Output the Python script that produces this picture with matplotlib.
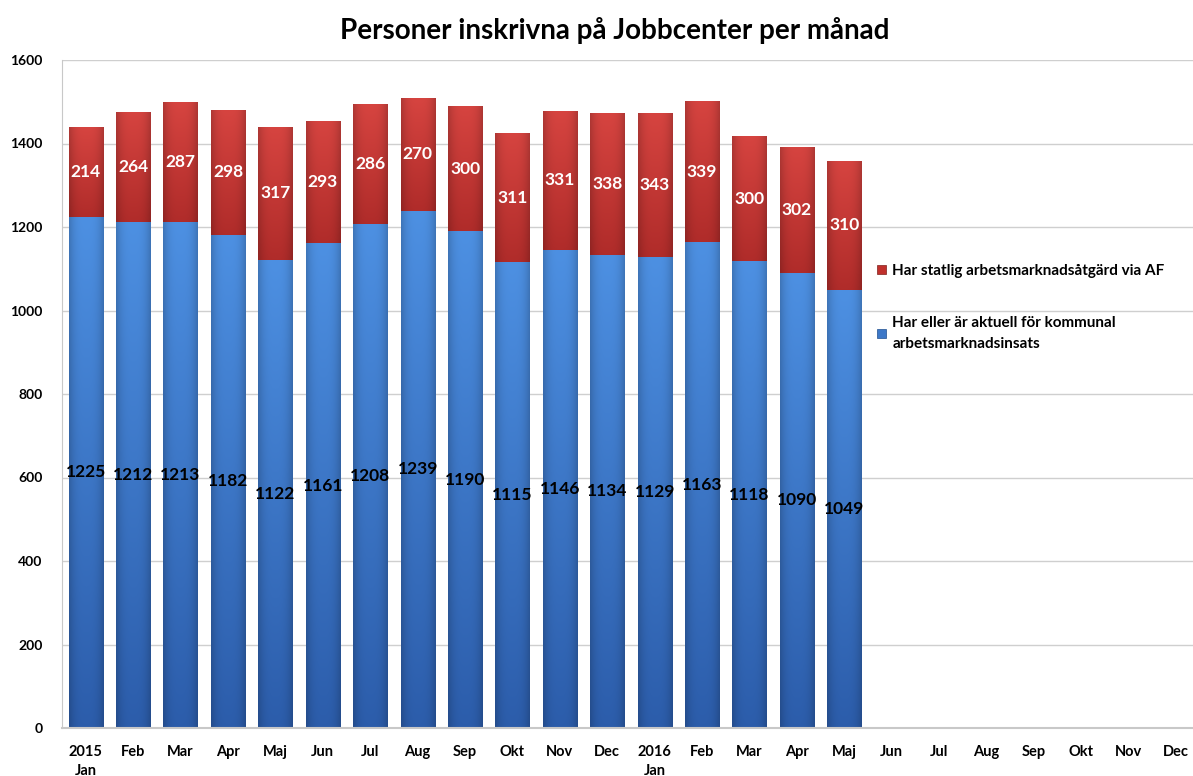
import numpy as np
import matplotlib
matplotlib.use("Agg")
import matplotlib.pyplot as plt
from matplotlib.patches import Patch

months = ["2015\nJan", "Feb", "Mar", "Apr", "Maj", "Jun", "Jul", "Aug", "Sep", "Okt", "Nov", "Dec",
          "2016\nJan", "Feb", "Mar", "Apr", "Maj", "Jun", "Jul", "Aug", "Sep", "Okt", "Nov", "Dec"]
kommunal = [1225, 1212, 1213, 1182, 1122, 1161, 1208, 1239, 1190, 1115, 1146, 1134, 1129, 1163, 1118, 1090, 1049]
statlig = [214, 264, 287, 298, 317, 293, 286, 270, 300, 311, 331, 338, 343, 339, 300, 302, 310]
label_red = "Har statlig arbetsmarknadsåtgärd via AF"
label_blue = "Har eller är aktuell för kommunal\narbetsmarknadsinsats"
title = "Personer inskrivna på Jobbcenter per månad"
yticks = [0, 200, 400, 600, 800, 1000, 1200, 1400, 1600]

plt.rcParams['font.family'] = ['Lato', 'DejaVu Sans']

W, H = 1193, 776
fig = plt.figure(figsize=(W / 100, H / 100), dpi=100)
ax = fig.add_axes([62 / W, 1 - 728 / H, (1200 - 62) / W, (728 - 60) / H])

x = np.arange(len(kommunal))
bw = 0.72
blue_top = np.array([0x4d, 0x90, 0xe2]) / 255
blue_bot = np.array([0x2c, 0x5d, 0xab]) / 255
red_top = np.array([0xd6, 0x44, 0x40]) / 255
red_bot = np.array([0xb0, 0x2c, 0x2a]) / 255

b1 = ax.bar(x, kommunal, width=bw, color=blue_bot, edgecolor='none', zorder=2)
b2 = ax.bar(x, statlig, bottom=kommunal, width=bw, color=red_bot, edgecolor='none', zorder=2)


def shade(rect, ctop, cbot):
    x0, y0 = rect.get_x(), rect.get_y()
    w, h = rect.get_width(), rect.get_height()
    ny, nx = 64, 32
    t = np.linspace(0, 1, ny)[:, None, None]
    col = ctop[None, None, :] * (1 - t) + cbot[None, None, :] * t
    u = np.linspace(-1, 1, nx)
    fac = 1.0 - 0.18 * np.abs(u) ** 3
    img = np.clip(col * fac[None, :, None], 0, 1)
    im = ax.imshow(img, extent=[x0, x0 + w, y0, y0 + h], origin='upper',
                   aspect='auto', zorder=2.5, interpolation='bilinear')
    im.set_clip_path(rect)


for r in b1:
    shade(r, blue_top, blue_bot)
for r in b2:
    shade(r, red_top, red_bot)

for xi, k, s in zip(x, kommunal, statlig):
    ax.text(xi, k / 2, str(k), ha='center', va='center', fontsize=12.5,
            fontweight='bold', color='black', zorder=4)
    ax.text(xi, k + s / 2, str(s), ha='center', va='center', fontsize=12.5,
            fontweight='bold', color='white', zorder=4)

ax.set_xlim(-0.5, len(months) - 0.5)
ax.set_ylim(0, 1600)
ax.set_yticks(yticks)
ax.set_yticklabels([str(v) for v in yticks], fontsize=10, fontweight='bold')
ax.set_xticks(np.arange(len(months)))
ax.set_xticklabels(months, fontsize=10.5, fontweight='bold', linespacing=1.45, va='top')
ax.tick_params(axis='both', length=0)
ax.tick_params(axis='y', pad=14)
ax.tick_params(axis='x', pad=12)

ax.grid(axis='y', color='#cfcfcf', linewidth=1.0, zorder=0)
ax.set_axisbelow(True)
for sp in ['top', 'right']:
    ax.spines[sp].set_visible(False)
ax.spines['left'].set_color('#c8c8c8')
ax.spines['bottom'].set_color('#c8c8c8')
ax.spines['bottom'].set_linewidth(1.5)

fig.text(615 / W, 1 - 30 / H, title, ha='center', va='center', fontsize=20, fontweight='bold')

handles = [Patch(facecolor='#c0302c', edgecolor='#80201c', linewidth=0.5),
           Patch(facecolor='#3d78c8', edgecolor='#1f4f8f', linewidth=0.5)]
leg = fig.legend(handles, [label_red, label_blue], loc='upper left',
                 bbox_to_anchor=(877 / W, 1 - 264 / H), frameon=False,
                 prop={'weight': 'bold', 'size': 11}, handlelength=0.6, handleheight=0.6,
                 handletextpad=0.4, labelspacing=2.5, borderaxespad=0, borderpad=0)
for t in leg.get_texts():
    t.set_linespacing(1.6)

fig.savefig("out.png", dpi=100)
